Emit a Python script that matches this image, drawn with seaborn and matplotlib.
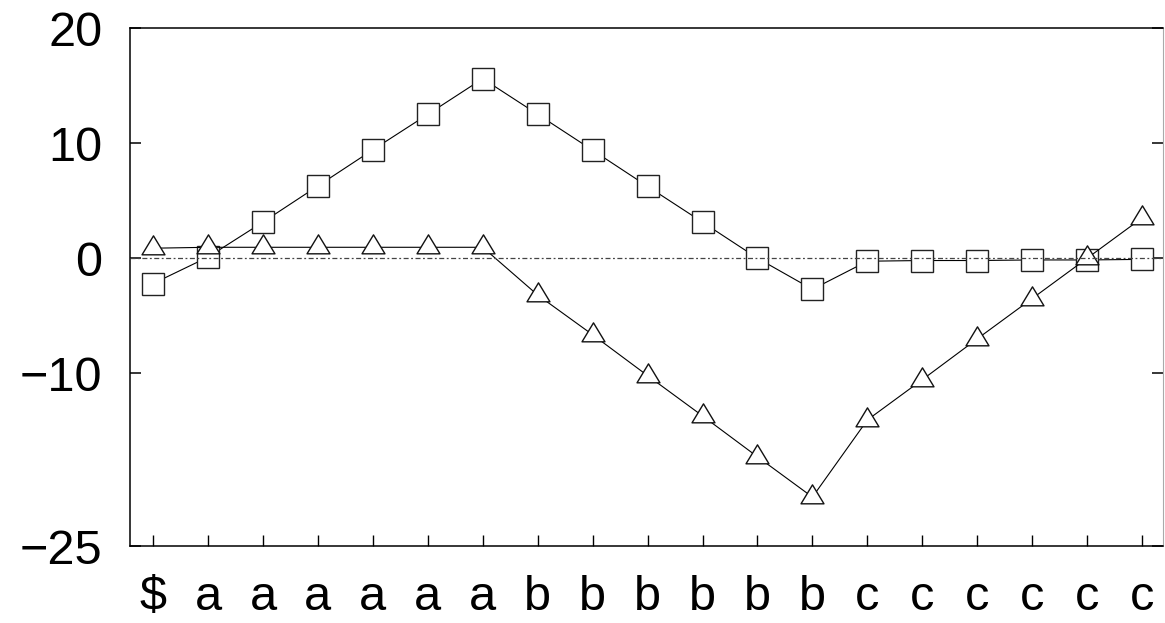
import matplotlib
matplotlib.use("Agg")
import matplotlib.pyplot as plt
import seaborn as sns
import numpy as np
from matplotlib.path import Path

# ---- data ----
labels = ["$", "a", "a", "a", "a", "a", "a", "b", "b", "b", "b", "b", "b",
          "c", "c", "c", "c", "c", "c"]
square_vals = [-2.2, 0.1, 3.14, 6.28, 9.42, 12.5, 15.6, 12.5, 9.38, 6.24, 3.13,
               0.0, -2.7, -0.26, -0.2, -0.2, -0.15, -0.15, -0.1]
triangle_vals = [0.87, 0.95, 0.95, 0.95, 0.95, 0.95, 0.95, -3.2, -6.65, -10.2,
                 -13.7, -17.25, -20.75, -14.05, -10.55, -7.0, -3.5, 0.0, 3.5]
yticks = [20, 10, 0, -10, -25]

sns.set_theme(style="white")
plt.rcParams['font.family'] = ['Liberation Sans', 'DejaVu Sans']

W, H = 1165, 623
fig = plt.figure(figsize=(W / 100, H / 100), dpi=100)
ax = fig.add_axes([130 / W, (H - 546) / H, (1163 - 130) / W, (546 - 28) / H])

xpos = np.arange(len(labels))

# triangle marker with data point at its centroid
tri = Path([(0, 1.0), (-0.908, -0.5), (0.908, -0.5), (0, 1.0)],
           [Path.MOVETO, Path.LINETO, Path.LINETO, Path.CLOSEPOLY])

sns.lineplot(x=xpos, y=square_vals, ax=ax, color="black", linewidth=0.8,
             marker="s", markersize=16.5, markerfacecolor="white",
             markeredgecolor="#222222", markeredgewidth=1.0, zorder=3)
sns.lineplot(x=xpos, y=triangle_vals, ax=ax, color="black", linewidth=0.8,
             marker=tri, markersize=18.2, markerfacecolor="white",
             markeredgecolor="#111111", markeredgewidth=1.0, zorder=4)

ax.axhline(0, color="#444444", linewidth=0.9, linestyle=(0, (4, 2, 1.5, 2)), zorder=5)

ax.set_xlim(-0.42, 18.38)
ax.set_ylim(-25, 20)
ax.set_xticks(xpos)
ax.set_xticklabels(labels)
ax.set_yticks(yticks)
ax.set_yticklabels([f"{v}".replace("-", "\u2212") for v in yticks])

ax.tick_params(axis="both", direction="in", labelsize=35, colors="black")
ax.tick_params(axis="y", length=8, width=1.1, pad=20, left=True, right=True)
ax.tick_params(axis="x", length=8, width=1.0, pad=21, bottom=True)

for side in ["left", "bottom", "top"]:
    ax.spines[side].set_color("black")
    ax.spines[side].set_linewidth(1.1)
ax.spines["right"].set_color("#aaaaaa")
ax.spines["right"].set_linewidth(0.8)
ax.set_xlabel("")
ax.set_ylabel("")
ax.grid(False)

fig.savefig("out.png", dpi=100, facecolor="white")
